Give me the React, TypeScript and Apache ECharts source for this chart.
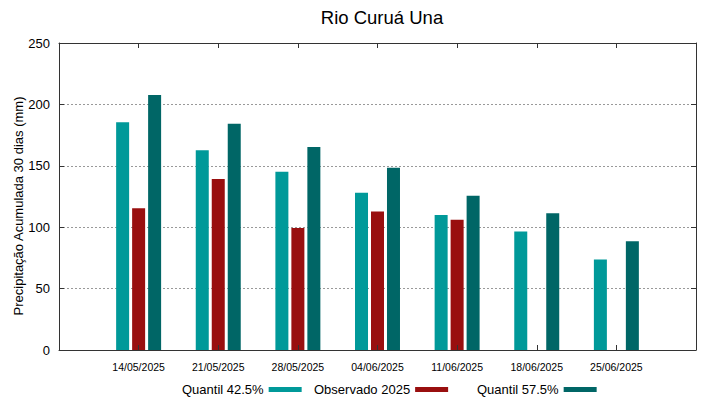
import React, { useEffect, useRef } from "react";
import * as echarts from "echarts";

const categories = ["", "14/05/2025", "21/05/2025", "28/05/2025", "04/06/2025", "11/06/2025", "18/06/2025", "25/06/2025", ""];
const quantil425 = [null, 185.4, 162.6, 145.2, 128.1, 109.9, 96.4, 73.6, null];
const observado2025 = [null, 115.4, 139.3, 99.3, 112.7, 106.1, null, null, null];
const quantil575 = [null, 207.6, 184.3, 165.3, 148.5, 125.7, 111.3, 88.5, null];
const yTicks = { min: 0, max: 250, interval: 50 };
const yTitle = "Precipitação Acumulada 30 dias (mm)";

const FONT = "Liberation Sans, Arial, sans-serif";
const C1 = "#009999";
const C2 = "#990f0f";
const C3 = "#006666";

export default function App() {
  const ref = useRef<HTMLDivElement>(null);
  useEffect(() => {
    if (!ref.current) return;
    const chart = echarts.init(ref.current, null, { renderer: "svg" });
    const axisLine = { show: true, onZero: false, lineStyle: { color: "#333", width: 1 } };
    const legendBase = {
      top: 378,
      icon: "rect",
      itemWidth: 33,
      itemHeight: 5,
      align: "right" as const,
      textStyle: { fontFamily: FONT, fontSize: 13, color: "#000" },
      selectedMode: false,
    };
    chart.setOption({
      animation: false,
      backgroundColor: "#fff",
      textStyle: { fontFamily: FONT },
      title: {
        text: "Rio Curuá Una",
        left: 377,
        textAlign: "center",
        top: 3,
        textStyle: { fontFamily: FONT, fontSize: 18.5, fontWeight: "normal", color: "#000" },
      },
      graphic: [
        {
          type: "text",
          x: 18,
          y: 206,
          rotation: Math.PI / 2,
          style: {
            text: yTitle,
            fontFamily: FONT,
            fontSize: 13,
            fill: "#000",
            align: "center",
            verticalAlign: "middle",
          },
        },
      ],
      legend: [
        { ...legendBase, left: 177, data: ["Quantil 42.5%"] },
        { ...legendBase, left: 309, data: ["Observado 2025"] },
        { ...legendBase, left: 472, data: ["Quantil 57.5%"] },
      ],
      grid: { left: 59, right: 23, top: 43, bottom: 49, containLabel: false },
      xAxis: [
        {
          type: "category",
          data: categories,
          boundaryGap: false,
          axisLine,
          axisTick: { show: true, inside: true, length: 5, interval: 0, lineStyle: { color: "#333" } },
          axisLabel: { interval: 0, fontFamily: FONT, fontSize: 10.5, color: "#000", margin: 11 },
          splitLine: { show: false },
          z: 10,
        },
        {
          type: "category",
          data: categories,
          position: "top",
          boundaryGap: false,
          axisLine,
          axisTick: { show: true, inside: true, length: 5, interval: 0, lineStyle: { color: "#333" } },
          axisLabel: { show: false },
          splitLine: { show: false },
          z: 10,
        },
      ],
      yAxis: [
        {
          type: "value",
          min: yTicks.min,
          max: yTicks.max,
          interval: yTicks.interval,
          axisLine,
          axisTick: { show: true, inside: true, length: 5, lineStyle: { color: "#333" } },
          axisLabel: { fontFamily: FONT, fontSize: 13, color: "#000", margin: 9 },
          splitLine: { show: true, showMinLine: false, showMaxLine: false, lineStyle: { color: "#999", type: [2, 2], width: 1 } },
        },
        {
          type: "value",
          min: yTicks.min,
          max: yTicks.max,
          interval: yTicks.interval,
          position: "right",
          axisLine,
          axisTick: { show: true, inside: true, length: 5, lineStyle: { color: "#333" } },
          axisLabel: { show: false },
          splitLine: { show: false },
        },
      ],
      series: [
        { name: "Quantil 42.5%", type: "bar", data: quantil425, barWidth: 13, barGap: "23%", itemStyle: { color: C1 } },
        { name: "Observado 2025", type: "bar", data: observado2025, barWidth: 13, barGap: "23%", itemStyle: { color: C2 } },
        { name: "Quantil 57.5%", type: "bar", data: quantil575, barWidth: 13, barGap: "23%", itemStyle: { color: C3 } },
      ],
    });
    return () => chart.dispose();
  }, []);
  return <div ref={ref} style={{ width: 719, height: 399, position: "fixed", left: 0, top: 0 }} />;
}
